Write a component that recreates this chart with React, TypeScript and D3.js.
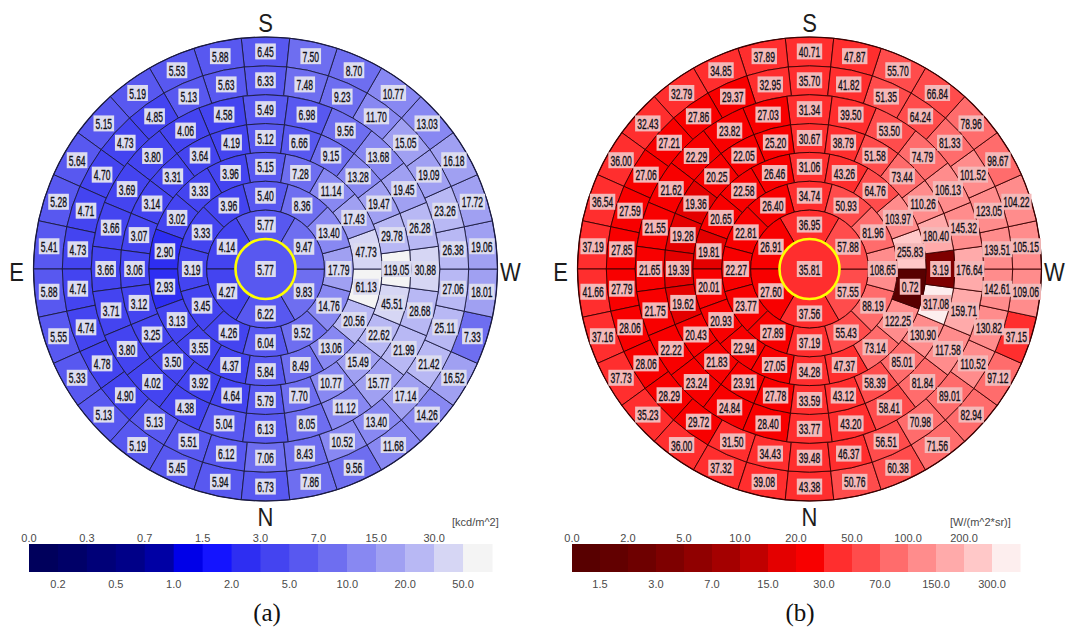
import React from "react";
import * as d3 from "d3";

// Tregenza sky patches: rings from horizon (ring 1) up to the zenith cap.
// Values in each ring start at South and go round towards East.
const patchCounts = [30, 30, 24, 24, 18, 12, 6];

// (a) sky luminance [kcd/m^2]
const lumRing1 = [6.45, 5.88, 5.53, 5.19, 5.15, 5.64, 5.28, 5.41, 5.88, 5.55, 5.33, 5.13, 5.19, 5.45, 5.94, 6.73, 7.86, 9.56, 11.68, 14.26, 16.52, 7.33, 18.01, 19.06, 17.72, 16.18, 13.03, 10.77, 8.70, 7.50];
const lumRing2 = [6.33, 5.63, 5.13, 4.85, 4.73, 4.70, 4.71, 4.73, 4.74, 4.74, 4.78, 4.90, 5.13, 5.51, 6.12, 7.06, 8.43, 10.52, 13.40, 17.14, 21.42, 25.11, 27.06, 26.38, 23.26, 19.09, 15.05, 11.70, 9.23, 7.48];
const lumRing3 = [5.49, 4.58, 4.06, 3.80, 3.69, 3.66, 3.66, 3.71, 3.80, 4.02, 4.38, 5.04, 6.13, 8.05, 11.12, 15.77, 21.99, 28.68, 30.88, 26.28, 19.45, 13.68, 9.56, 6.98];
const lumRing4 = [5.12, 4.19, 3.64, 3.31, 3.14, 3.07, 3.06, 3.12, 3.25, 3.50, 3.92, 4.64, 5.79, 7.70, 10.77, 15.49, 22.62, 45.51, 119.05, 29.78, 19.47, 13.28, 9.15, 6.66];
const lumRing5 = [5.15, 3.96, 3.33, 3.02, 2.90, 2.93, 3.13, 3.55, 4.37, 5.84, 8.49, 13.06, 20.56, 61.13, 47.73, 17.43, 11.14, 7.28];
const lumRing6 = [5.40, 3.96, 3.33, 3.19, 3.45, 4.26, 6.04, 9.52, 14.76, 17.79, 13.40, 8.36];
const lumRing7 = [5.77, 4.14, 4.27, 6.22, 9.83, 9.47];
const lumZenith = 5.77;

// (b) sky radiance [W/(m^2*sr)]
const radRing1 = [40.71, 37.89, 34.85, 32.79, 32.43, 36.00, 36.54, 37.19, 41.66, 37.16, 37.73, 35.23, 36.00, 37.32, 39.08, 43.38, 50.76, 60.38, 71.56, 82.94, 97.12, 37.15, 109.06, 105.15, 104.22, 98.67, 78.96, 66.84, 55.70, 47.87];
const radRing2 = [35.70, 32.95, 29.37, 27.86, 27.21, 27.06, 27.59, 27.85, 27.79, 28.06, 28.06, 28.29, 29.72, 31.50, 34.43, 39.48, 46.37, 56.51, 70.98, 89.01, 110.52, 130.82, 142.61, 139.51, 123.05, 101.52, 81.33, 64.24, 51.35, 41.82];
const radRing3 = [31.34, 27.03, 23.82, 22.29, 21.62, 21.55, 21.65, 21.75, 22.22, 23.24, 24.84, 28.40, 33.77, 43.20, 58.41, 81.84, 117.58, 159.71, 176.64, 145.32, 106.13, 74.79, 53.50, 39.50];
const radRing4 = [30.67, 25.20, 22.05, 20.25, 19.36, 19.28, 19.39, 19.62, 20.43, 21.83, 23.91, 27.78, 33.59, 43.12, 58.39, 85.01, 130.90, 317.08, 3.19, 180.40, 110.26, 73.44, 51.58, 38.79];
const radRing5 = [31.06, 26.46, 22.58, 20.65, 19.81, 20.01, 20.93, 22.94, 27.05, 34.28, 47.37, 73.14, 122.25, 0.72, 255.83, 103.97, 64.76, 43.26];
const radRing6 = [34.74, 26.40, 22.81, 22.27, 23.77, 27.89, 37.19, 55.43, 88.19, 108.65, 81.96, 50.93];
const radRing7 = [36.95, 26.91, 27.60, 37.56, 57.55, 57.88];
const radZenith = 35.81;

// Colour classes
const blueBreaks = [0.2, 0.3, 0.5, 0.7, 1.0, 1.5, 2.0, 3.0, 5.0, 7.0, 10, 15, 20, 30, 50];
const blueColors = ["#00005c", "#000068", "#000078", "#000088", "#0000a4", "#0000e8", "#1414ff", "#2e2ef2", "#4444f0", "#5858f0", "#6e6ef0", "#8888f2", "#a0a0f2", "#b8b8f4", "#d6d6f4", "#f4f4f4"];
const redBreaks = [1.5, 2, 3, 5, 7, 10, 15, 20, 30, 50, 70, 100, 150, 200, 300];
const redColors = ["#580000", "#620000", "#6e0000", "#7e0000", "#900000", "#a40000", "#c00000", "#e40000", "#f80000", "#ff2e2e", "#ff4c4c", "#ff6c6c", "#ff8c8c", "#ffaaaa", "#ffc8c8", "#fdeeee"];

const cardinal = { top: "S", bottom: "N", left: "E", right: "W" };

const R = 232;
const CAP_R = 30;

type MapProps = {
  cx: number;
  cy: number;
  rings: number[][];
  zenith: number;
  color: (v: number) => string;
  boxFill: string;
  lineColor: string;
};

function labelWidth(s: string) {
  let w = 0;
  for (const ch of s) w += ch === "." ? 2.4 : 4.75;
  return w;
}

function CellLabel({ x, y, value, boxFill }: { x: number; y: number; value: number; boxFill: string }) {
  const s = value.toFixed(2);
  const w = labelWidth(s) + 4;
  return (
    <g>
      <rect x={x - w / 2} y={y - 8} width={w} height={16} fill={boxFill} />
      <text
        transform={`translate(${x},${y + 5.6}) scale(0.57,1)`}
        textAnchor="middle"
        fontFamily="'Liberation Sans', Arial, sans-serif"
        fontSize={15}
        stroke="#15151c"
        strokeWidth={0.35}
        fill="#0e0e14"
      >
        {s}
      </text>
    </g>
  );
}

function SkyMap({ cx, cy, rings, zenith, color, boxFill, lineColor }: MapProps) {
  const radius = d3.scaleLinear().domain([0, patchCounts.length]).range([R, CAP_R]);
  const cells: { d: string; c: [number, number]; v: number }[] = [];
  rings.forEach((vals, i) => {
    const n = patchCounts[i];
    const step = (2 * Math.PI) / n;
    const arc = d3.arc<any>().innerRadius(radius(i + 1)).outerRadius(radius(i));
    vals.forEach((v, j) => {
      const a = j * step;
      const datum = { startAngle: -a - step / 2, endAngle: -a + step / 2 };
      cells.push({ d: arc(datum) as string, c: arc.centroid(datum) as [number, number], v });
    });
  });
  const letterProps = {
    fontFamily: "'Liberation Sans', Arial, sans-serif",
    fontSize: 25,
    fill: "#1c1c1c",
    textAnchor: "middle" as const,
  };
  const letter = (x: number, y: number, s: string) => (
    <text transform={`translate(${x},${y}) scale(0.88,1)`} {...letterProps}>{s}</text>
  );
  return (
    <g>
      <g transform={`translate(${cx},${cy})`}>
        {cells.map((c, k) => (
          <path key={k} d={c.d} fill={color(c.v)} stroke={lineColor} strokeWidth={0.9} />
        ))}
        <circle r={CAP_R} fill={color(zenith)} />
        <circle r={R} fill="none" stroke={lineColor} strokeWidth={1.2} />
        {cells.map((c, k) => (
          <CellLabel key={k} x={c.c[0]} y={c.c[1]} value={c.v} boxFill={boxFill} />
        ))}
        <circle r={CAP_R} fill="none" stroke="#ffff00" strokeWidth={2.6} />
        <CellLabel x={0} y={0} value={zenith} boxFill={boxFill} />
      </g>
      {letter(cx, 32, cardinal.top)}
      {letter(cx, 526, cardinal.bottom)}
      {letter(cx - R - 17, 281, cardinal.left)}
      {letter(cx + R + 13, 281, cardinal.right)}
    </g>
  );
}

type BarProps = { x0: number; x1: number; breaks: number[]; colors: string[]; unit: string; unitX: number };

function ColorBar({ x0, x1, breaks, colors, unit, unitX }: BarProps) {
  const bounds = [0, ...breaks];
  const x = d3.scaleLinear().domain([0, colors.length]).range([x0, x1]);
  const tickStyle = { fontFamily: "'Liberation Sans', Arial, sans-serif", fontSize: 11, fill: "#4a4a4a" };
  return (
    <g>
      {colors.map((c, i) => (
        <rect key={i} x={x(i)} y={544} width={x(i + 1) - x(i) + 0.5} height={28} fill={c} />
      ))}
      {bounds.map((b, i) => (
        <text key={i} x={x(i)} y={i % 2 === 0 ? 542 : 588} textAnchor="middle" {...tickStyle}>
          {b.toFixed(1)}
        </text>
      ))}
      <text x={unitX} y={526} {...tickStyle}>{unit}</text>
    </g>
  );
}

export default function App() {
  const blue = d3.scaleThreshold<number, string>().domain(blueBreaks).range(blueColors);
  const red = d3.scaleThreshold<number, string>().domain(redBreaks).range(redColors);
  const captionProps = {
    textAnchor: "middle" as const,
    fontFamily: "'Liberation Serif', 'Times New Roman', serif",
    fontSize: 25,
    fill: "#111",
  };
  return (
    <svg
      width={1076}
      height={637}
      viewBox="0 0 1076 637"
      style={{ position: "absolute", left: 0, top: 0, background: "#fff" }}
    >
      <rect width={1076} height={637} fill="#fff" />
      <SkyMap
        cx={265.5}
        cy={269}
        rings={[lumRing1, lumRing2, lumRing3, lumRing4, lumRing5, lumRing6, lumRing7]}
        zenith={lumZenith}
        color={blue}
        boxFill="#dcdcf0"
        lineColor="#1a1a40"
      />
      <SkyMap
        cx={809.5}
        cy={269}
        rings={[radRing1, radRing2, radRing3, radRing4, radRing5, radRing6, radRing7]}
        zenith={radZenith}
        color={red}
        boxFill="#f4b8b8"
        lineColor="#3a0000"
      />
      <ColorBar x0={29} x1={492} breaks={blueBreaks} colors={blueColors} unit="[kcd/m^2]" unitX={452} />
      <ColorBar x0={572} x1={1020} breaks={redBreaks} colors={redColors} unit="[W/(m^2*sr)]" unitX={950} />
      <text x={267} y={621} {...captionProps}>(a)</text>
      <text x={800} y={621} {...captionProps}>(b)</text>
    </svg>
  );
}
